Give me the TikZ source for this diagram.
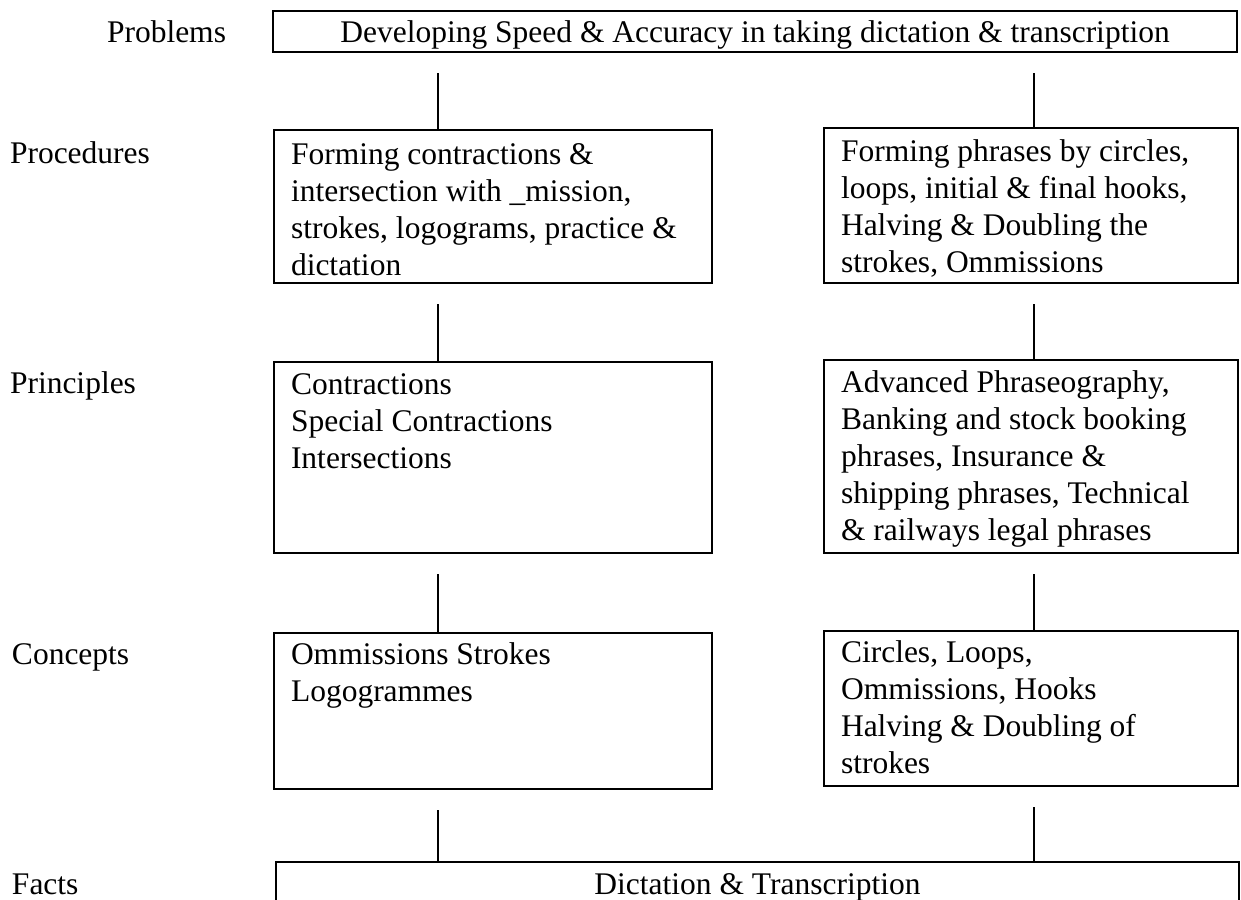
\documentclass[tikz,border=0pt]{standalone}
\usepackage{fontspec}
\setmainfont{Liberation Serif}
\newcommand{\txtblock}[2]{\begin{minipage}[t]{#1}#2\end{minipage}}
\begin{document}
\begin{tikzpicture}[x=1pt,y=-1pt,
  every node/.style={inner sep=0pt, outer sep=0pt},
  frame/.style={draw, line width=1.6pt, anchor=north west, rectangle},
  body/.style={anchor=base west, font=\fontsize{31.5}{37}\selectfont},
  lbl/.style={anchor=base west, font=\fontsize{31.5}{37}\selectfont},
  conn/.style={line width=1.8pt, shorten <=21pt}]
\clip (0,0) rectangle (1241,899);
\fill[white] (0,0) rectangle (1241,899);

% column positions of the connectors
\coordinate (cl) at (438,0);
\coordinate (cr) at (1034,0);

% row labels
\node[lbl] (lProb) at (107,43) {Problems};
\node[lbl] (lProc) at (10,163) {Procedures};
\node[lbl] (lPrin) at (10,393) {Principles};
\node[lbl] (lConc) at (12,664) {Concepts};
\node[lbl] (lFact) at (12,894) {Facts};

% top box
\node[frame, minimum width=964pt, text height=31pt, text depth=10pt,
      font=\fontsize{31.5}{37}\selectfont] (prob) at (273,11)
  {Developing Speed \& Accuracy in taking dictation \& transcription};

% procedures
\node[frame, minimum width=438pt, minimum height=153pt] (procL) at (274,130) {};
\node[body] (procLt) at ([xshift=17pt,yshift=-34pt]procL.north west)
  {\txtblock{420pt}{Forming contractions \&\\intersection with \_mission,\\strokes, logograms, practice \&\\dictation}};
\node[frame, minimum width=414pt, minimum height=155pt] (procR) at (824,128) {};
\node[body] (procRt) at ([xshift=17pt,yshift=-33pt]procR.north west)
  {\txtblock{395pt}{Forming phrases by circles,\\loops, initial \& final hooks,\\Halving \& Doubling the\\strokes, Ommissions}};

% principles
\node[frame, minimum width=438pt, minimum height=191pt] (prinL) at (274,362) {};
\node[body] (prinLt) at ([xshift=17pt,yshift=-32pt]prinL.north west)
  {\txtblock{420pt}{Contractions\\Special Contractions\\Intersections}};
\node[frame, minimum width=414pt, minimum height=193pt] (prinR) at (824,360) {};
\node[body] (prinRt) at ([xshift=17pt,yshift=-32pt]prinR.north west)
  {\txtblock{395pt}{Advanced Phraseography,\\Banking and stock booking\\phrases, Insurance \&\\shipping phrases, Technical\\\& railways legal phrases}};

% concepts
\node[frame, minimum width=438pt, minimum height=156pt] (concL) at (274,633) {};
\node[body] (concLt) at ([xshift=17pt,yshift=-31pt]concL.north west)
  {\txtblock{420pt}{Ommissions Strokes\\Logogrammes}};
\node[frame, minimum width=414pt, minimum height=155pt] (concR) at (824,631) {};
\node[body] (concRt) at ([xshift=17pt,yshift=-31pt]concR.north west)
  {\txtblock{395pt}{Circles, Loops,\\Ommissions, Hooks\\Halving \& Doubling of\\strokes}};

% facts
\node[frame, minimum width=963pt, text height=32pt, text depth=20pt,
      font=\fontsize{31.5}{37}\selectfont] (facts) at (276,862)
  {Dictation \& Transcription};

% connectors
\draw[conn] (prob.south -| cl) -- (procL.north -| cl);
\draw[conn] (prob.south -| cr) -- (procR.north -| cr);
\draw[conn] (procL.south -| cl) -- (prinL.north -| cl);
\draw[conn] (procR.south -| cr) -- (prinR.north -| cr);
\draw[conn] (prinL.south -| cl) -- (concL.north -| cl);
\draw[conn] (prinR.south -| cr) -- (concR.north -| cr);
\draw[conn] (concL.south -| cl) -- (facts.north -| cl);
\draw[conn] (concR.south -| cr) -- (facts.north -| cr);
\end{tikzpicture}
\end{document}
